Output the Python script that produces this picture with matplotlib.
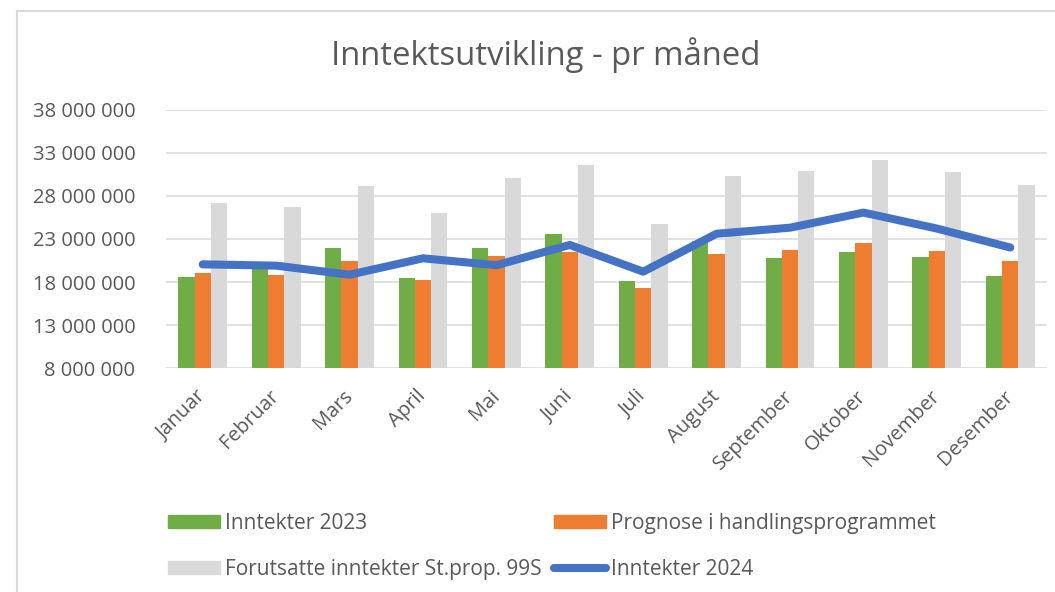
import numpy as np
import matplotlib.pyplot as plt
from matplotlib.patches import Patch
from matplotlib.lines import Line2D

plt.rcParams['font.family'] = ['Open Sans', 'DejaVu Sans']

months = ['Januar', 'Februar', 'Mars', 'April', 'Mai', 'Juni', 'Juli',
          'August', 'September', 'Oktober', 'November', 'Desember']
inntekter_2023 = [18.55, 19.5, 21.95, 18.5, 21.9, 23.6, 18.1, 22.8, 20.8, 21.5, 20.9, 18.7]
prognose = [19.05, 18.8, 20.4, 18.2, 21.0, 21.5, 17.3, 21.2, 21.7, 22.5, 21.6, 20.4]
forutsatte = [27.2, 26.75, 29.15, 26.0, 30.1, 31.55, 24.7, 30.3, 30.9, 32.1, 30.8, 29.2]
inntekter_2024 = [20.05, 19.9, 18.85, 20.75, 19.95, 22.3, 19.2, 23.6, 24.3, 26.05, 24.2, 22.0]

scale = 1e6
yticks = [8, 13, 18, 23, 28, 33, 38]
ytick_labels = ['8 000 000', '13 000 000', '18 000 000', '23 000 000',
                '28 000 000', '33 000 000', '38 000 000']

c_green = '#70ad47'
c_orange = '#ed7d31'
c_gray = '#d9d9d9'
c_blue = '#4472c4'
c_text = '#595959'

fig = plt.figure(figsize=(10.55, 5.92), dpi=100)
ax = fig.add_axes([166/1055, 1-368.3/592, (1047-166)/1055, (368.3-109.5)/592])

x = np.arange(len(months))
w = 0.222
ax.bar(x - w, np.array(inntekter_2023)*scale, w, color=c_green, zorder=2)
ax.bar(x, np.array(prognose)*scale, w, color=c_orange, zorder=2)
ax.bar(x + w, np.array(forutsatte)*scale, w, color=c_gray, zorder=2)
ax.plot(x, np.array(inntekter_2024)*scale, color=c_blue, lw=5.8,
        solid_capstyle='round', solid_joinstyle='round', zorder=3)

ax.set_xlim(-0.5, len(months) - 0.5)
ax.set_ylim(8*scale, 38*scale)
ax.set_yticks(np.array(yticks)*scale)
ax.set_yticklabels(ytick_labels, fontsize=14.5, color=c_text)
ax.set_xticks(x)
ax.set_xticklabels(months, fontsize=14.5, color=c_text, rotation=45,
                   ha='right', va='center', rotation_mode='anchor')
ax.tick_params(axis='both', length=0)
ax.tick_params(axis='y', pad=22)
ax.tick_params(axis='x', pad=18)
ax.grid(axis='y', color=c_gray, lw=1.1, zorder=0)
ax.set_axisbelow(True)
for s in ax.spines.values():
    s.set_visible(False)

fig.text(546/1055, 1-55/592, 'Inntektsutvikling - pr måned', ha='center', va='center',
         fontsize=23.7, color=c_text)

# chart border
fig.add_artist(Line2D([17/1055, 1], [1-11/592, 1-11/592], color=c_gray, lw=1.5))
fig.add_artist(Line2D([17/1055, 17/1055], [0, 1-11/592], color=c_gray, lw=1.5))

handles = [Patch(color=c_green), Patch(color=c_gray),
           Patch(color=c_orange), Line2D([], [], color=c_blue, lw=5.8, solid_capstyle='round')]
labels = ['Inntekter 2023', 'Forutsatte inntekter St.prop. 99S',
          'Prognose i handlingsprogrammet', 'Inntekter 2024']
fig.legend(handles, labels, ncol=2, loc='upper left', bbox_to_anchor=(149/1055, 1-494/592),
           frameon=False, fontsize=15, labelcolor=c_text, handlelength=2.5,
           handleheight=0.6, handletextpad=0.25, columnspacing=0.6, labelspacing=1.2)

fig.savefig('out.png', dpi=100)
